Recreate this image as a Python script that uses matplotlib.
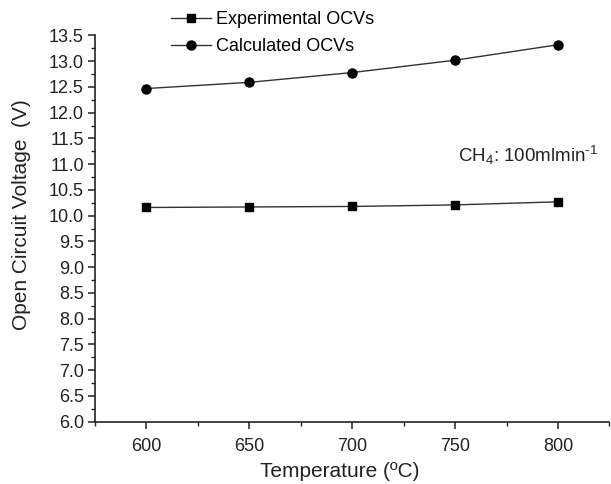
import matplotlib
matplotlib.use('Agg')
import matplotlib.pyplot as plt
from matplotlib.ticker import MultipleLocator, FormatStrFormatter

plt.rcParams['font.family'] = ['Liberation Sans', 'DejaVu Sans']
plt.rcParams['mathtext.fontset'] = 'custom'
plt.rcParams['mathtext.rm'] = 'Liberation Sans'
plt.rcParams['mathtext.it'] = 'Liberation Sans'

# data
temperature = [600, 650, 700, 750, 800]
ocv_experimental = [10.16, 10.17, 10.18, 10.21, 10.27]
ocv_calculated = [12.47, 12.59, 12.78, 13.02, 13.32]

fig = plt.figure(figsize=(6.11, 4.84), dpi=100)
ax = fig.add_axes([0.1555, 0.1287, 0.842, 0.798])

line_col = '#333333'
ax.plot(temperature, ocv_experimental, marker='s', markersize=5.8, color=line_col,
        markerfacecolor='black', markeredgecolor='black', linewidth=1.0,
        label='Experimental OCVs')
ax.plot(temperature, ocv_calculated, marker='o', markersize=6.5, color=line_col,
        markerfacecolor='black', markeredgecolor='black', linewidth=1.0,
        label='Calculated OCVs')

ax.set_xlim(575, 825)
ax.set_ylim(6.0, 13.5)
ax.xaxis.set_major_locator(MultipleLocator(50))
ax.xaxis.set_minor_locator(MultipleLocator(25))
ax.yaxis.set_major_locator(MultipleLocator(0.5))
ax.yaxis.set_minor_locator(MultipleLocator(0.25))
ax.yaxis.set_major_formatter(FormatStrFormatter('%.1f'))

for s in ['top', 'right']:
    ax.spines[s].set_visible(False)
for s in ['left', 'bottom']:
    ax.spines[s].set_linewidth(1.2)
    ax.spines[s].set_color('#222222')

ax.tick_params(which='major', direction='out', length=5, width=1.1, labelsize=13,
               colors='#222222', pad=3)
ax.tick_params(which='minor', direction='out', length=3, width=1.0, colors='#222222')
ax.tick_params(axis='x', pad=7)

ax.set_xlabel('Temperature (ºC)', fontsize=15, color='#222222')
ax.set_ylabel('Open Circuit Voltage  (V)', fontsize=15, color='#222222')
ax.xaxis.set_label_coords(0.476, -0.104)
ax.yaxis.set_label_coords(-0.124, 0.535)

ax.text(751.5, 11.18, r'CH$_4$: 100mlmin$^{\text{-1}}$', fontsize=13.5, color='#222222',
        ha='left', va='center')

fig.legend(loc='center left', bbox_to_anchor=(0.2799, 0.931),
           bbox_transform=fig.transFigure, frameon=False, fontsize=13,
           borderpad=0, borderaxespad=0, handlelength=2.2, handletextpad=0.3,
           labelspacing=0.55)

plt.savefig('out.png', dpi=100)
